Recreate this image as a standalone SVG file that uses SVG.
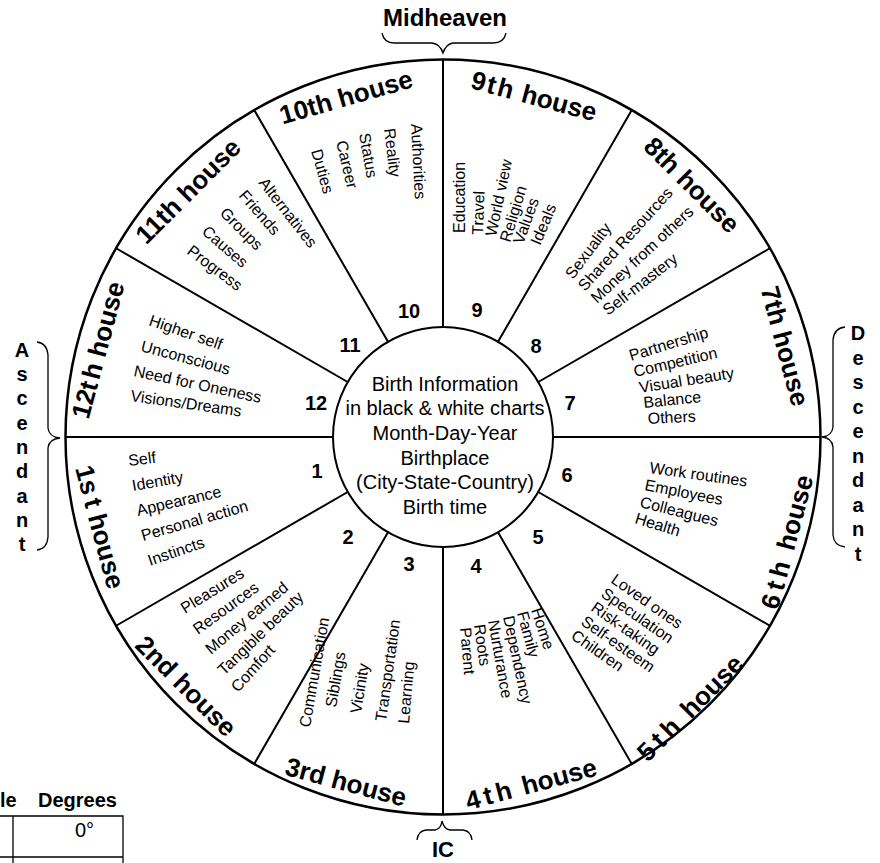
<svg xmlns="http://www.w3.org/2000/svg" width="880" height="863" viewBox="0 0 880 863">
<style>
text{font-family:"Liberation Sans",Arial,sans-serif;fill:#000}
.lbl{font-size:26px;font-weight:bold;text-anchor:middle;dominant-baseline:central}
.lst{font-size:16px}
.num{font-size:20px;font-weight:bold;text-anchor:middle;dominant-baseline:central}
.ctr{font-size:20px;text-anchor:middle}
.side{font-size:20px;font-weight:bold;text-anchor:middle}
.big{font-size:24px;font-weight:bold;text-anchor:middle}
.ic{font-size:22px;font-weight:bold;text-anchor:middle}
.tbl{font-size:20px}
.ring{fill:none;stroke:#000}
.div line{stroke:#000;stroke-width:2}
.brace{fill:none;stroke:#000;stroke-width:1.3}
</style>
<rect width="880" height="863" fill="#fff"/>
<g id="wheel">
<circle class="ring" cx="443" cy="437" r="377.5" stroke-width="2.5"/>
</g>
<g id="dividers" class="div">
<line x1="553" y1="437" x2="820.5" y2="437"/>
<line x1="538.3" y1="492" x2="769.9" y2="625.75"/>
<line x1="498" y1="532.3" x2="631.75" y2="763.9"/>
<line x1="443" y1="547" x2="443" y2="814.5"/>
<line x1="388" y1="532.3" x2="254.25" y2="763.9"/>
<line x1="347.7" y1="492" x2="116.1" y2="625.75"/>
<line x1="333" y1="437" x2="65.5" y2="437"/>
<line x1="347.7" y1="382" x2="116.1" y2="248.25"/>
<line x1="388" y1="341.7" x2="254.25" y2="110.1"/>
<line x1="443" y1="327" x2="443" y2="59.5"/>
<line x1="498" y1="341.7" x2="631.75" y2="110.1"/>
<line x1="538.3" y1="382" x2="769.9" y2="248.25"/>
</g>
<g id="center">
<circle class="ring" cx="443" cy="437" r="110" stroke-width="2"/>
<text class="ctr" x="445" y="390.5">Birth Information</text>
<text class="ctr" x="445" y="415.2">in black &amp; white charts</text>
<text class="ctr" x="445" y="439.9">Month-Day-Year</text>
<text class="ctr" x="445" y="464.6">Birthplace</text>
<text class="ctr" x="445" y="489.3">(City-State-Country)</text>
<text class="ctr" x="445" y="514">Birth time</text>
</g>
<g id="house1">
<text class="lbl" transform="translate(100,527) rotate(75)">1<tspan letter-spacing="5">s</tspan>t house</text>
<text class="num" x="317" y="471">1</text>
<text class="lst" transform="translate(129,466) rotate(-7)">Self</text>
<text class="lst" transform="translate(133,491) rotate(-10)">Identity</text>
<text class="lst" transform="translate(138,516) rotate(-13)">Appearance</text>
<text class="lst" transform="translate(143,541) rotate(-16)">Personal action</text>
<text class="lst" transform="translate(150,566) rotate(-19)">Instincts</text>
</g>
<g id="house2">
<text class="lbl" transform="translate(186,686) rotate(45)">2nd house</text>
<text class="num" x="348" y="537">2</text>
<text class="lst" transform="translate(185,614) rotate(-32)">Pleasures</text>
<text class="lst" transform="translate(198,635) rotate(-36)">Resources</text>
<text class="lst" transform="translate(211,655) rotate(-40)">Money earned</text>
<text class="lst" transform="translate(224,676) rotate(-44)">Tangible beauty</text>
<text class="lst" transform="translate(238,693) rotate(-48)">Comfort</text>
</g>
<g id="house3">
<text class="lbl" transform="translate(346,782) rotate(15)">3rd house</text>
<text class="num" x="409" y="564">3</text>
<text class="lst" transform="translate(310,728) rotate(-80)">Communication</text>
<text class="lst" transform="translate(336,708) rotate(-80)">Siblings</text>
<text class="lst" transform="translate(361,714) rotate(-81)">Vicinity</text>
<text class="lst" transform="translate(386,722) rotate(-82)">Transportation</text>
<text class="lst" transform="translate(409,724) rotate(-85)">Learning</text>
</g>
<g id="house4">
<text class="lbl" transform="translate(531,784) rotate(-15)"><tspan letter-spacing="4">4th</tspan> house</text>
<text class="num" x="476" y="566">4</text>
<text class="lst" transform="translate(531,610) rotate(72)">Home</text>
<text class="lst" transform="translate(517,613) rotate(75)">Family</text>
<text class="lst" transform="translate(503,617) rotate(78)">Dependency</text>
<text class="lst" transform="translate(488,621) rotate(80)">Nurturance</text>
<text class="lst" transform="translate(474,625) rotate(82)">Roots</text>
<text class="lst" transform="translate(460,628) rotate(85)">Parent</text>
</g>
<g id="house5">
<text class="lbl" transform="translate(690,708) rotate(-45)"><tspan letter-spacing="5">5th</tspan> house</text>
<text class="num" x="538" y="537">5</text>
<text class="lst" transform="translate(610,582) rotate(35)">Loved ones</text>
<text class="lst" transform="translate(600,596) rotate(35)">Speculation</text>
<text class="lst" transform="translate(590,610) rotate(35)">Risk-taking</text>
<text class="lst" transform="translate(580,624) rotate(35)">Self-esteem</text>
<text class="lst" transform="translate(570,638) rotate(35)">Children</text>
</g>
<g id="house6">
<text class="lbl" transform="translate(787,542) rotate(-75)"><tspan letter-spacing="5">6th</tspan> house</text>
<text class="num" x="567" y="475">6</text>
<text class="lst" transform="translate(649,473) rotate(8)">Work routines</text>
<text class="lst" transform="translate(644,490) rotate(11)">Employees</text>
<text class="lst" transform="translate(639,507) rotate(14)">Colleagues</text>
<text class="lst" transform="translate(634,523) rotate(17)">Health</text>
</g>
<g id="house7">
<text class="lbl" transform="translate(785,346) rotate(75)">7th house</text>
<text class="num" x="570" y="403">7</text>
<text class="lst" transform="translate(631,361) rotate(-17)">Partnership</text>
<text class="lst" transform="translate(635,377) rotate(-13)">Competition</text>
<text class="lst" transform="translate(640,393) rotate(-9)">Visual beauty</text>
<text class="lst" transform="translate(644,408) rotate(-6)">Balance</text>
<text class="lst" transform="translate(648,424) rotate(-3)">Others</text>
</g>
<g id="house8">
<text class="lbl" transform="translate(692,185) rotate(45)">8th house</text>
<text class="num" x="536" y="346">8</text>
<text class="lst" transform="translate(573,280) rotate(-53)">Sexuality</text>
<text class="lst" transform="translate(585,292) rotate(-48)">Shared Resources</text>
<text class="lst" transform="translate(597,304) rotate(-43)">Money from others</text>
<text class="lst" transform="translate(608,316) rotate(-38)">Self-mastery</text>
</g>
<g id="house9">
<text class="lbl" transform="translate(534,96) rotate(15)"><tspan letter-spacing="2">9th</tspan> house</text>
<text class="num" x="477" y="310">9</text>
<text class="lst" transform="translate(465,233) rotate(-90)">Education</text>
<text class="lst" transform="translate(483,235) rotate(-88)">Travel</text>
<text class="lst" transform="translate(496,237) rotate(-78)">World view</text>
<text class="lst" transform="translate(510,243) rotate(-73)">Religion</text>
<text class="lst" transform="translate(523,245) rotate(-70)">Values</text>
<text class="lst" transform="translate(540,246) rotate(-67)">Ideals</text>
</g>
<g id="house10">
<text class="lbl" transform="translate(346,97) rotate(-16)">10th house</text>
<text class="num" x="409" y="311">10</text>
<text class="lst" transform="translate(411,124) rotate(87)">Authorities</text>
<text class="lst" transform="translate(384,129) rotate(83)">Reality</text>
<text class="lst" transform="translate(359,134) rotate(80)">Status</text>
<text class="lst" transform="translate(336,142) rotate(76.5)">Career</text>
<text class="lst" transform="translate(311,151) rotate(74)">Duties</text>
</g>
<g id="house11">
<text class="lbl" transform="translate(188,191) rotate(-45)">11th house</text>
<text class="num" x="350" y="345">11</text>
<text class="lst" transform="translate(258,183) rotate(52)">Alternatives</text>
<text class="lst" transform="translate(238,196) rotate(49)">Friends</text>
<text class="lst" transform="translate(219,214) rotate(45)">Groups</text>
<text class="lst" transform="translate(201,233) rotate(41)">Causes</text>
<text class="lst" transform="translate(186,253) rotate(37)">Progress</text>
</g>
<g id="house12">
<text class="lbl" transform="translate(98,350) rotate(-75)">12<tspan letter-spacing="3">t</tspan>h house</text>
<text class="num" x="316" y="403">12</text>
<text class="lst" transform="translate(148,325) rotate(19)">Higher self</text>
<text class="lst" transform="translate(140,351) rotate(15)">Unconscious</text>
<text class="lst" transform="translate(133,376) rotate(12)">Need for Oneness</text>
<text class="lst" transform="translate(130,401) rotate(8)">Visions/Dreams</text>
</g>
<g id="midheaven">
<text class="big" x="445" y="26">Midheaven</text>
<path class="brace" d="M382,33 Q384,43 394,43 L432,43 Q440,44 443,53 Q446,44 453,43 L493,43 Q504,43 506,33"/>
</g>
<g id="ic">
<text class="ic" x="443" y="857">IC</text>
<path class="brace" d="M417,840 Q418,831 426,830 L435,830 Q441,829 442,821 Q444,829 450,830 L463,830 Q471,831 472,840"/>
</g>
<g id="ascendant">
<path class="brace" d="M37,342 Q47,343 48,355 L48,428 Q49,437 60,438 Q49,439 48,448 L48,537 Q47,549 37,550"/>
<text class="side" x="22"><tspan x="22" y="357">A</tspan><tspan x="22" y="381">s</tspan><tspan x="22" y="405">c</tspan><tspan x="22" y="430">e</tspan><tspan x="22" y="454">n</tspan><tspan x="22" y="478">d</tspan><tspan x="22" y="503">a</tspan><tspan x="22" y="527">n</tspan><tspan x="22" y="551">t</tspan></text>
</g>
<g id="descendant">
<path class="brace" d="M845,327 Q834,328 833,340 L833,427 Q832,436 822,437 Q832,438 833,447 L833,535 Q834,546 845,547"/>
<text class="side" x="858"><tspan x="858" y="340">D</tspan><tspan x="858" y="364.5">e</tspan><tspan x="858" y="389">s</tspan><tspan x="858" y="413.5">c</tspan><tspan x="858" y="438">e</tspan><tspan x="858" y="462.5">n</tspan><tspan x="858" y="487">d</tspan><tspan x="858" y="511.5">a</tspan><tspan x="858" y="536">n</tspan><tspan x="858" y="561">t</tspan></text>
</g>
<g id="table">
<text class="tbl" x="0" y="807" font-weight="bold">le</text>
<text class="tbl" x="38" y="807" font-weight="bold">Degrees</text>
<path d="M0,816 H123 V863 M13,816 V863 M0,857 H123" fill="none" stroke="#000" stroke-width="1.3"/>
<text class="tbl" x="94" y="837" text-anchor="end">0°</text>
</g>
</svg>
